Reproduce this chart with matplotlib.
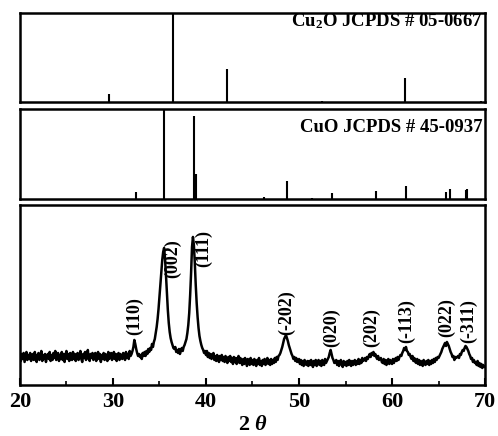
import matplotlib
matplotlib.use("Agg")
import matplotlib.pyplot as plt
import numpy as np

plt.rcParams["font.family"] = "Liberation Serif"
plt.rcParams["font.weight"] = "bold"
plt.rcParams["mathtext.fontset"] = "custom"
plt.rcParams["mathtext.rm"] = "Liberation Serif:bold"
plt.rcParams["mathtext.it"] = "Liberation Serif:italic:bold"
plt.rcParams["mathtext.bf"] = "Liberation Serif:bold"

# reference stick patterns
cu2o_pos = [29.55, 36.42, 42.30, 52.45, 61.35, 69.60]
cu2o_int = [9, 100, 37, 1.5, 27, 1.5]

cuo_pos = [32.5, 35.5, 38.7, 38.9, 46.2, 48.7, 51.4, 53.5, 58.3, 61.5, 65.8, 66.2, 67.9, 68.1]
cuo_int = [8, 100, 92, 28, 2, 20, 1, 7, 9, 14, 8, 11, 10, 11]

# measured pattern, 2theta from 20 to 70 in 0.1 steps
two_theta = np.round(np.arange(200, 701) / 10, 1)
intensity = [
    30, 24, 31, 26, 32, 23, 28, 33, 25, 30,
    26, 32, 24, 29, 31, 25, 33, 27, 23, 30,
    32, 25, 28, 34, 24, 30, 26, 31, 23, 29,
    31, 26, 33, 24, 30, 25, 32, 27, 34, 25,
    28, 32, 24, 30, 26, 33, 25, 31, 23, 30,
    34, 26, 31, 24, 32, 27, 25, 33, 26, 31,
    24, 30, 32, 25, 28, 34, 26, 23, 31, 27,
    33, 25, 29, 35, 26, 24, 31, 27, 32, 25,
    30, 32, 24, 28, 33, 26, 31, 23, 30, 26,
    32, 25, 31, 27, 24, 33, 26, 30, 32, 25,
    28, 33, 26, 31, 24, 30, 32, 25, 31, 27,
    26, 32, 29, 25, 33, 27, 31, 26, 34, 29,
    31, 34, 38, 45, 41, 36, 32, 29, 31, 28,
    30, 26, 32, 29, 33, 29, 34, 31, 36, 33,
    37, 35, 41, 38, 43, 46, 52, 58, 66, 76,
    88, 100, 112, 125, 133, 137, 126, 110, 92, 75,
    62, 53, 47, 43, 40, 37, 36, 38, 33, 35,
    32, 36, 31, 34, 37, 34, 38, 40, 43, 46,
    52, 60, 72, 90, 112, 138, 148, 140, 122, 100,
    82, 68, 57, 49, 44, 40, 37, 35, 32, 34,
    30, 34, 28, 32, 27, 31, 26, 30, 32, 25,
    29, 24, 30, 26, 23, 29, 25, 30, 24, 28,
    23, 29, 25, 22, 28, 24, 29, 23, 27, 21,
    28, 23, 27, 21, 26, 29, 22, 27, 23, 20,
    26, 21, 27, 23, 19, 26, 22, 20, 27, 21,
    25, 20, 26, 22, 19, 25, 21, 27, 20, 24,
    19, 25, 21, 26, 20, 24, 27, 21, 25, 20,
    26, 21, 25, 22, 27, 23, 28, 25, 29, 30,
    32, 35, 38, 42, 46, 48, 50, 47, 44, 40,
    37, 34, 31, 29, 26, 28, 24, 27, 23, 24,
    26, 21, 25, 20, 24, 19, 25, 21, 20, 24,
    19, 24, 20, 25, 21, 18, 24, 20, 25, 19,
    23, 25, 20, 24, 19, 25, 21, 20, 26, 22,
    24, 26, 28, 32, 35, 31, 27, 25, 22, 23,
    25, 20, 24, 19, 23, 25, 20, 18, 24, 20,
    23, 19, 24, 20, 25, 21, 19, 24, 20, 23,
    25, 20, 24, 21, 26, 21, 25, 22, 27, 24,
    25, 27, 24, 28, 26, 29, 31, 28, 32, 30,
    33, 29, 31, 28, 26, 29, 25, 26, 27, 23,
    22, 26, 21, 25, 20, 24, 26, 21, 25, 22,
    21, 26, 22, 25, 27, 24, 28, 25, 28, 30,
    29, 32, 34, 37, 35, 38, 34, 33, 30, 31,
    28, 26, 29, 24, 27, 23, 22, 26, 21, 25,
    20, 24, 21, 19, 25, 21, 20, 24, 21, 25,
    20, 24, 21, 25, 22, 26, 23, 27, 25, 28,
    27, 29, 31, 33, 36, 38, 40, 42, 39, 43,
    41, 39, 36, 33, 31, 28, 29, 25, 28, 27,
    28, 29, 27, 31, 30, 33, 35, 34, 37, 39,
    38, 36, 34, 31, 29, 26, 27, 23, 25, 22,
    23, 20, 24, 19, 22, 18, 21, 17, 20, 18,
    18,
]

# peak labels: (hkl), x position, y of label bottom
peak_labels = ["(110)", "(002)", "(111)", "(-202)", "(020)", "(202)", "(-113)", "(022)", "(-311)"]
label_x = [32.3, 36.4, 39.7, 48.7, 53.5, 57.8, 61.6, 65.9, 68.2]
label_y = [50, 107, 118, 50, 38, 38, 42, 48, 42]

fig = plt.figure(figsize=(4.98, 4.36), dpi=100)
left, width = 0.040, 0.934
ax1 = fig.add_axes([left, 0.766, width, 0.204])
ax2 = fig.add_axes([left, 0.544, width, 0.206])
ax3 = fig.add_axes([left, 0.117, width, 0.413])

ax1.vlines(cu2o_pos, 0, cu2o_int, color="black", lw=1.5)
ax1.set_ylim(0, 100)
ax1.text(0.994, 0.854, "Cu$_2$O JCPDS # 05-0667", transform=ax1.transAxes,
         ha="right", va="baseline", fontsize=13.5, fontweight="bold")

ax2.vlines(cuo_pos, 0, cuo_int, color="black", lw=1.5)
ax2.set_ylim(0, 100)
ax2.text(0.994, 0.744, "CuO JCPDS # 45-0937", transform=ax2.transAxes,
         ha="right", va="baseline", fontsize=13.5, fontweight="bold")

ax3.plot(two_theta, intensity, color="black", lw=1.8)
ax3.set_ylim(0, 180)
for lab, x, y in zip(peak_labels, label_x, label_y):
    ax3.text(x, y, lab, rotation=90, ha="center", va="bottom", fontsize=13, fontweight="bold")

for ax in (ax1, ax2, ax3):
    ax.set_xlim(20, 70)
    ax.set_yticks([])
    for s in ax.spines.values():
        s.set_linewidth(1.8)

for ax in (ax1, ax2):
    ax.set_xticks([])

ax3.set_xticks([20, 30, 40, 50, 60, 70])
ax3.set_xticks([25, 35, 45, 55, 65], minor=True)
ax3.tick_params(axis="x", which="major", direction="in", length=5, width=1.5, labelsize=16, pad=5)
ax3.tick_params(axis="x", which="minor", direction="in", length=3, width=1.2)
ax3.set_xlabel(r"2 $\mathit{\theta}$", fontsize=16, fontweight="bold", labelpad=2.5)

fig.savefig("out.png", dpi=100)
